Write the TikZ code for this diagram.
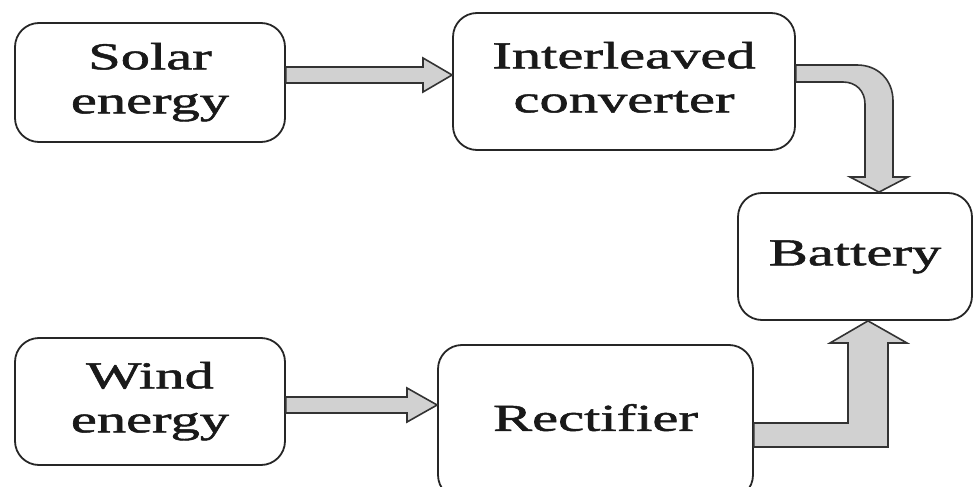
\documentclass[tikz,border=0pt]{standalone}
\usepackage{fontspec}
\usepackage{graphicx}
\setmainfont{Liberation Serif}
\newfontfamily\boxfont{Liberation Serif}[FakeBold=1.2]
\newcommand\boxtxt[1]{\scalebox{1.54}[1]{\begin{tabular}{@{}c@{}}#1\end{tabular}}}
\begin{document}
\begin{tikzpicture}[x=1pt,y=-1pt,
  blk/.style={draw=black!85,line width=1.8pt,rounded corners=24pt,fill=white,
    font=\boxfont\fontsize{38}{44}\selectfont,text=black!90,inner sep=0pt},
  barrow/.style={draw=black!80,line width=1.6pt,fill=black!18,line join=miter}]
\useasboundingbox (0,0) rectangle (978,487);
\node[blk,minimum width=270pt,minimum height=119pt] (solar) at (150,82.5) {\boxtxt{Solar\\energy}};
\node[blk,minimum width=342pt,minimum height=137pt] (conv) at (624,81.5) {\boxtxt{Interleaved\\converter}};
\node[blk,minimum width=234pt,minimum height=127pt] (bat) at (855,256.5) {\boxtxt{Battery}};
\node[blk,minimum width=270pt,minimum height=127pt] (wind) at (150,401.5) {\boxtxt{Wind\\energy}};
\node[blk,minimum width=315pt,minimum height=154pt] (rect) at (595.5,422) {\boxtxt{Rectifier}};
% Solar -> converter
\draw[barrow] (solar.east |- 0,67) -- (423,67) -- (423,58) -- (conv.west |- 0,75) -- (423,92) -- (423,83) -- (solar.east |- 0,83) -- cycle;
% Wind -> rectifier
\draw[barrow] (wind.east |- 0,397) -- (407,397) -- (407,388) -- (rect.west |- 0,405) -- (407,422) -- (407,413) -- (wind.east |- 0,413) -- cycle;
% converter -> battery
\draw[barrow] (conv.east |- 0,65) -- (857,65) .. controls (878,65) and (893,80) .. (893,101) -- (893,177) -- (908,177) -- (879,0 |- bat.north) -- (850,177) -- (865,177) -- (865,104) .. controls (865,91) and (856,82) .. (843,82) -- (conv.east |- 0,82) -- cycle;
% rectifier -> battery
\draw[barrow] (rect.east |- 0,423) -- (848,423) -- (848,343) -- (830,343) -- (868,0 |- bat.south) -- (907,343) -- (888,343) -- (888,447) -- (rect.east |- 0,447) -- cycle;
\end{tikzpicture}
\end{document}
